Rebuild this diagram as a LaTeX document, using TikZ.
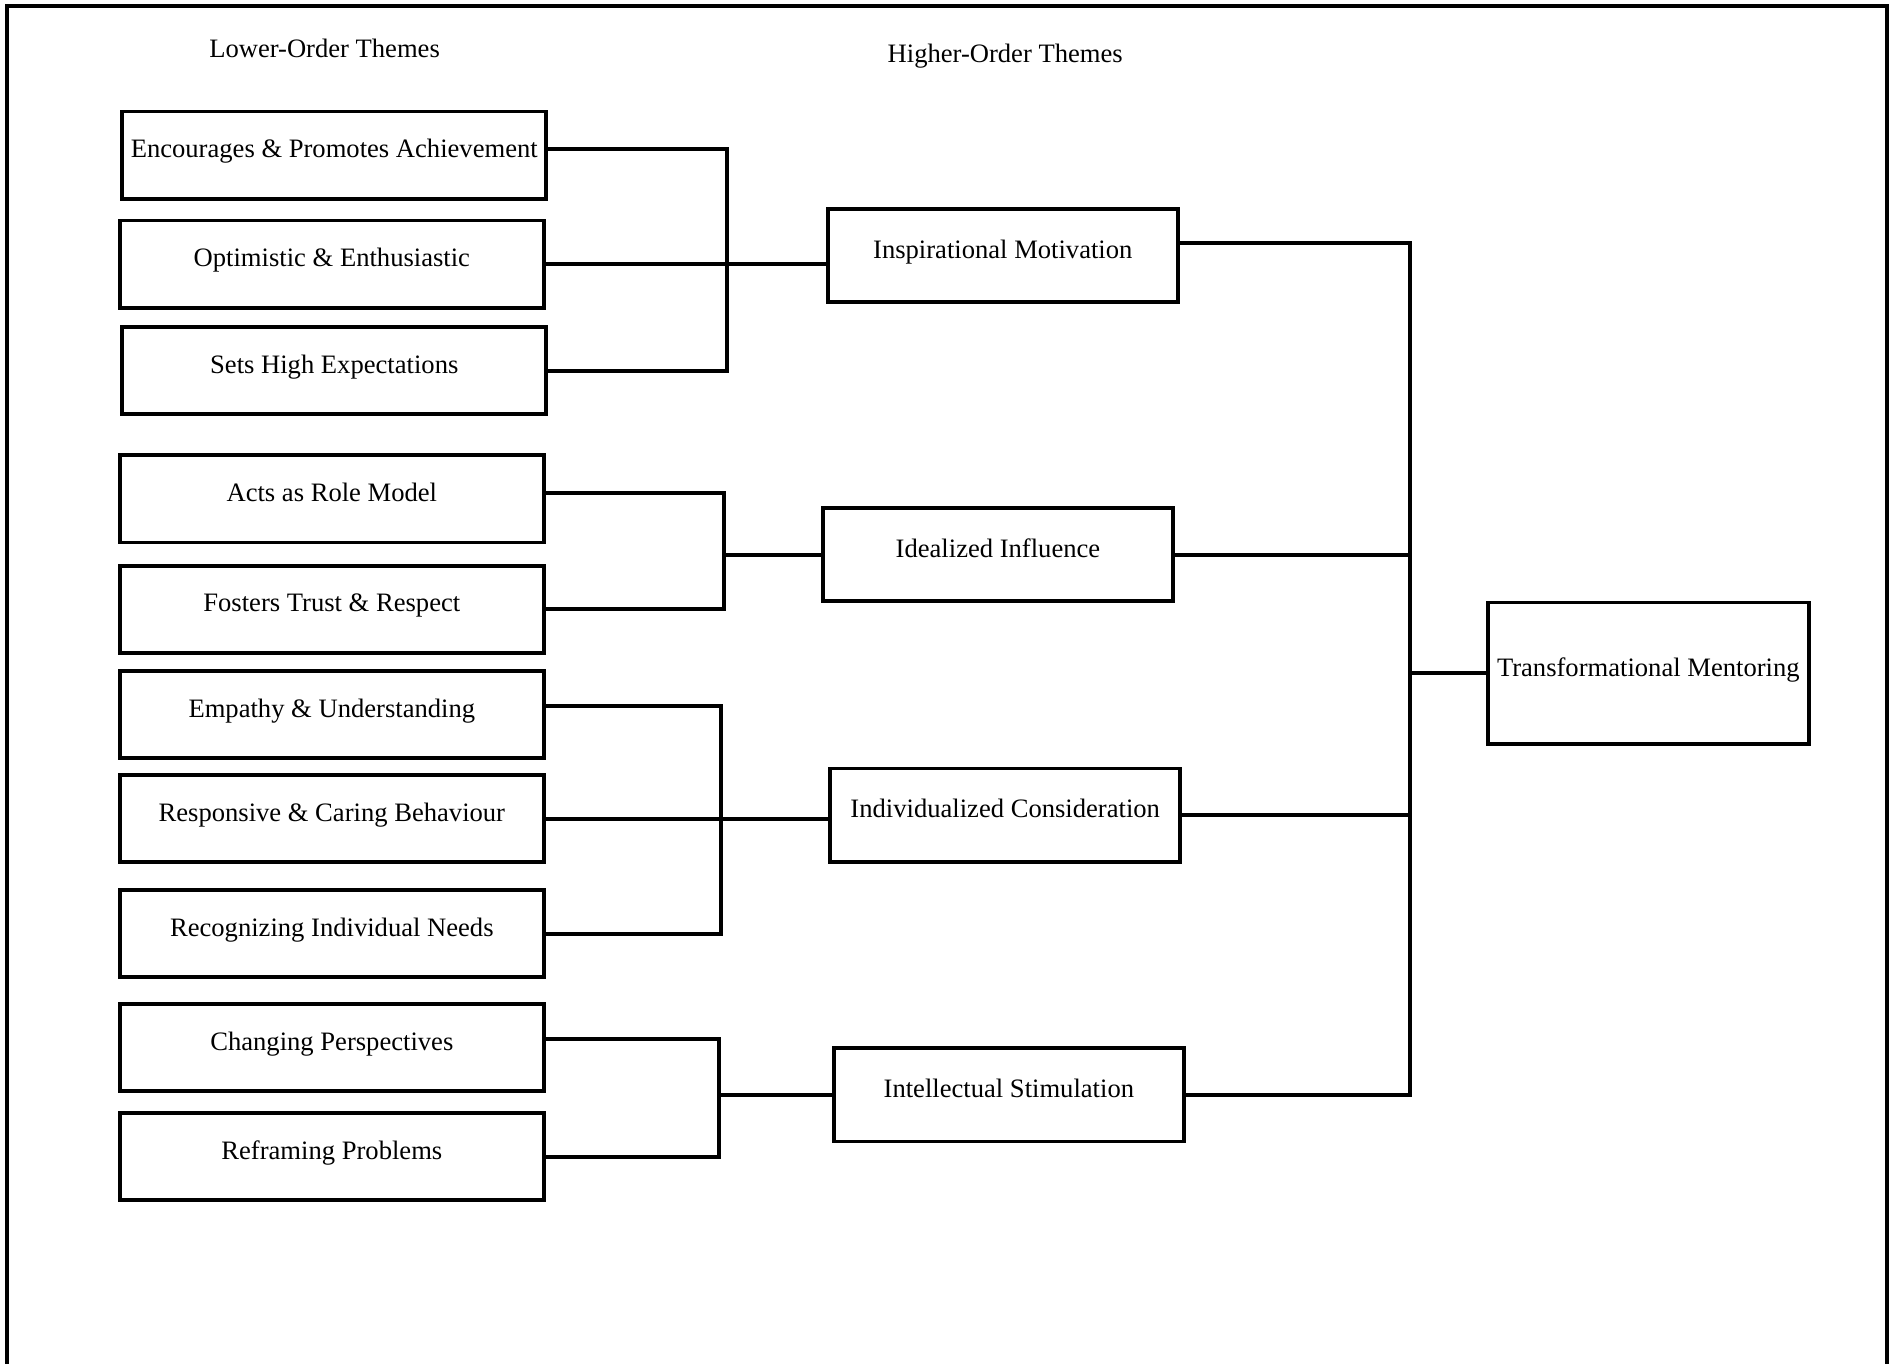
\documentclass[tikz,border=0pt]{standalone}
\usepackage{fontspec}
\setmainfont{Liberation Serif}
\usepackage{tikz}

\begin{document}
\begin{tikzpicture}[x=0.02cm, y=-0.02cm, every node/.style={font=\fontsize{12.5}{15}\selectfont},
	lowbox/.style={draw, line width=1.8pt, minimum width=7.0cm, minimum height=1.44cm, text height=0.7em, text depth=0.45em},
	highbox/.style={draw, line width=1.8pt, minimum width=5.78cm, minimum height=1.54cm, text height=0.7em, text depth=0.45em},
	link/.style={line width=1.9pt}]
	\useasboundingbox (0,0) rectangle (1568,1126);
	\draw[line width=1.8pt] (6,1126) -- (6,5) -- (1558,5) -- (1558,1126);
	\node (lowtitle) at (268,40) {Lower-Order Themes};
	\node (hightitle) at (830,46) {Higher-Order Themes};
	% lower-order themes
	\node[lowbox] (enc) at (276,128) {Encourages \& Promotes Achievement};
	\node[lowbox] (opt) at (274,218) {Optimistic \& Enthusiastic};
	\node[lowbox] (sets) at (276,306) {Sets High Expectations};
	\node[lowbox] (acts) at (274,412) {Acts as Role Model};
	\node[lowbox] (fost) at (274,503) {Fosters Trust \& Respect};
	\node[lowbox] (emp) at (274,590) {Empathy \& Understanding};
	\node[lowbox] (resp) at (274,676) {Responsive \& Caring Behaviour};
	\node[lowbox] (recog) at (274,771) {Recognizing Individual Needs};
	\node[lowbox] (chg) at (274,865) {Changing Perspectives};
	\node[lowbox] (refr) at (274,955) {Reframing Problems};
	% higher-order themes
	\node[highbox] (im) at (828,211) {Inspirational Motivation};
	\node[highbox] (ii) at (824,458) {Idealized Influence};
	\node[highbox] (ic) at (830,673) {Individualized Consideration};
	\node[highbox] (is) at (833,904) {Intellectual Stimulation};
	\node[draw, line width=1.8pt, minimum width=5.3cm, minimum height=2.34cm, text height=0.7em, text depth=0.45em] (tm) at (1361,556) {Transformational Mentoring};
	% joins
	\coordinate (j1) at (600,217);
	\coordinate (j2) at (598,458);
	\coordinate (j3) at (595,676);
	\coordinate (j4) at (594,904);
	\coordinate (j5) at (1164,556);
	\draw[link] ([yshift=2.8pt]enc.east) -| (j1);
	\draw[link] (sets.east) -| (j1);
	\draw[link] (opt.east) -- (opt.east -| im.west);
	\draw[link] ([yshift=2.8pt]acts.east) -| (j2) -- (ii.west);
	\draw[link] (fost.east) -| (j2);
	\draw[link] ([yshift=4pt]emp.east) -| (j3);
	\draw[link] (recog.east) -| (j3);
	\draw[link] (resp.east) -- (resp.east -| ic.west);
	\draw[link] ([yshift=4pt]chg.east) -| (j4) -- (is.west);
	\draw[link] (refr.east) -| (j4);
	\draw[link] ([yshift=5.7pt]im.east) -| (j5);
	\draw[link] (is.east) -| (j5);
	\draw[link] (ii.east) -- (ii.east -| j5);
	\draw[link] (ic.east) -- (ic.east -| j5);
	\draw[link] (j5) -- (tm.west);
\end{tikzpicture}
\end{document}
